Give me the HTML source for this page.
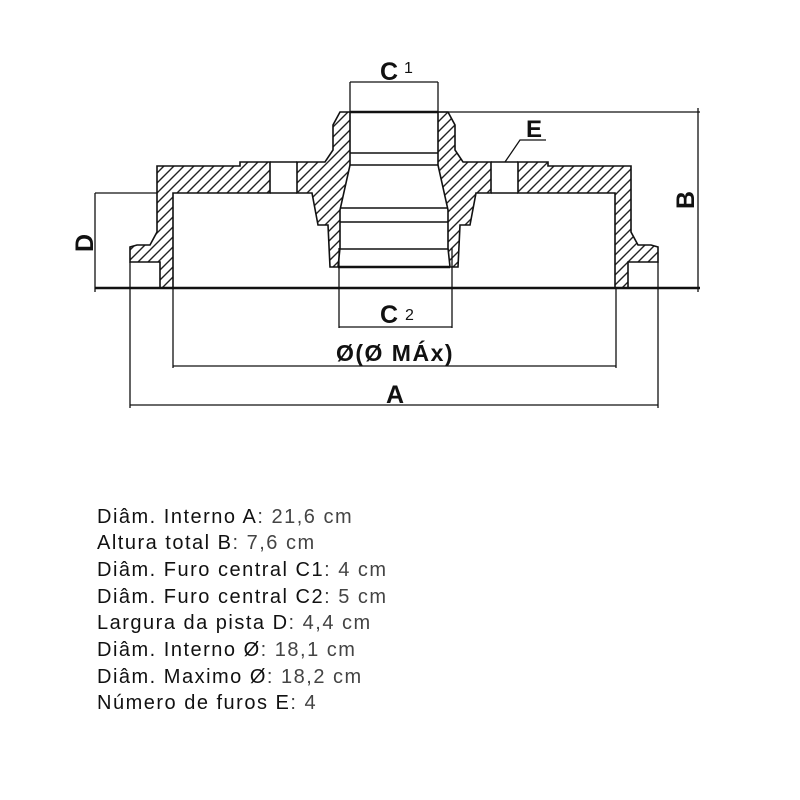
<!DOCTYPE html>
<html><head><meta charset="utf-8"><style>
body{margin:0;background:#fff;width:800px;height:800px;overflow:hidden;position:relative}
svg{position:absolute;left:0;top:0}
.t{position:absolute;left:97px;font-family:"Liberation Sans",sans-serif;font-size:20px;letter-spacing:1.5px;color:#111;line-height:20px;white-space:nowrap}
.t span{color:#444}
</style></head><body>
<svg width="800" height="800" viewBox="0 0 800 800">
<defs>
<pattern id="h" patternUnits="userSpaceOnUse" width="10" height="10">
<path d="M-2,12L12,-2M-2,2L2,-2M8,12L12,8" stroke="#222" stroke-width="1.4"/>
</pattern>
<g id="half" stroke="#111" stroke-width="1.6" fill="url(#h)" stroke-linejoin="miter">
<polygon points="157,166 240,166 240,162 270,162 270,193 173,193 173,288 160,288 160,262 130,262 130,247 137,245 150,245 157,232"/>
<polygon points="297,162 325,162 333,150 333,125 340,112 350,112 350,165 340,210 340,248 338,267 330,267 328,225 318,225 312,193 297,193"/>
</g>
<g id="halfR" stroke="#111" stroke-width="1.6" fill="url(#h)">
<polygon points="631,166 548,166 548,162 518,162 518,193 615,193 615,288 628,288 628,262 658,262 658,247 651,245 638,245 631,232"/>
<polygon points="491,162 463,162 455,150 455,125 448,112 438,112 438,165 448,210 448,248 450,267 458,267 460,225 470,225 476,193 491,193"/>
</g>
</defs>
<g fill="none" stroke="#111">
<use href="#half"/>
<use href="#halfR"/>
<path d="M270,162H297M270,193H297M491,162H518M491,193H518" stroke-width="1.4"/>
<path d="M350,112H438" stroke-width="2.5"/>
<path d="M350,153H438M350,165H438M340,208H448M340,222H448M340,249H448" stroke-width="1.5"/>
<path d="M338,267H450" stroke-width="2.5"/>
<path d="M95,288H700" stroke-width="2.5"/>
<path d="M350,82V112M438,82V112M350,82H438" stroke-width="1.3"/>
<path d="M438,112H700M632,288H700M698,108V292" stroke-width="1.3"/>
<path d="M95,193H157M95,193V292" stroke-width="1.3"/>
<path d="M339,248V328M452,248V328M339,327H452" stroke-width="1.3"/>
<path d="M173,288V368M616,288V368M173,366H616" stroke-width="1.3"/>
<path d="M130,262V408M658,262V408M130,405H658" stroke-width="1.3"/>
<path d="M505,162L520,140H546" stroke-width="1.3"/>
</g>
<g font-family="Liberation Sans,sans-serif" font-weight="bold" fill="#111">
<text x="380" y="80" font-size="25">C</text><text x="404" y="73" font-size="16" font-weight="normal">1</text>
<text x="526" y="137" font-size="24">E</text>
<text x="380" y="323" font-size="25">C</text><text x="405" y="320" font-size="16" font-weight="normal">2</text>
<text x="395" y="361" font-size="23" letter-spacing="1.5" text-anchor="middle">Ø(Ø MÁx)</text>
<text x="395" y="403" font-size="25" text-anchor="middle">A</text>
<text font-size="25" transform="translate(694,200) rotate(-90)" text-anchor="middle">B</text>
<text font-size="25" transform="translate(93,243) rotate(-90)" text-anchor="middle">D</text>
</g>
</svg>
<div class="t" style="top:507px">Diâm. Interno A<span>: 21,6 cm</span></div>
<div class="t" style="top:533px">Altura total B<span>: 7,6 cm</span></div>
<div class="t" style="top:560px">Diâm. Furo central C1<span>: 4 cm</span></div>
<div class="t" style="top:587px">Diâm. Furo central C2<span>: 5 cm</span></div>
<div class="t" style="top:613px">Largura da pista D<span>: 4,4 cm</span></div>
<div class="t" style="top:640px">Diâm. Interno Ø<span>: 18,1 cm</span></div>
<div class="t" style="top:667px">Diâm. Maximo Ø<span>: 18,2 cm</span></div>
<div class="t" style="top:693px">Número de furos E<span>: 4</span></div>
</body></html>
